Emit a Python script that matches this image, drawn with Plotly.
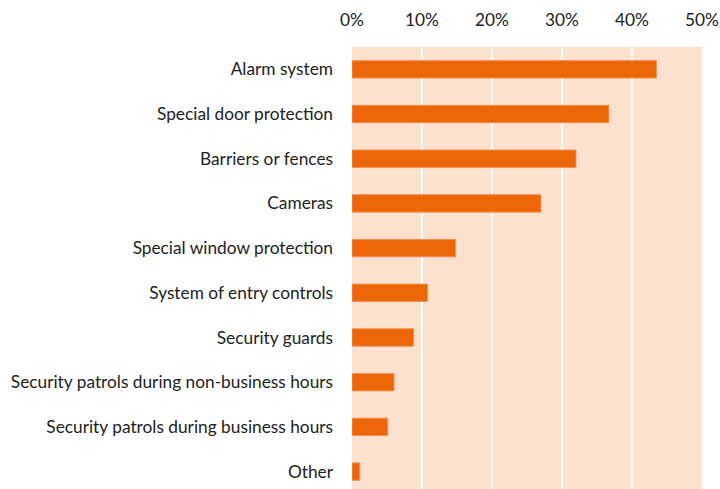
import plotly.graph_objects as go

categories = [
    "Alarm system",
    "Special door protection",
    "Barriers or fences",
    "Cameras",
    "Special window protection",
    "System of entry controls",
    "Security guards",
    "Security patrols during non-business hours",
    "Security patrols during business hours",
    "Other",
]
values = [43.5, 36.7, 32.0, 27.0, 14.8, 10.8, 8.8, 6.0, 5.1, 1.1]
tick_vals = [0, 10, 20, 30, 40, 50]
tick_text = ["0%", "10%", "20%", "30%", "40%", "50%"]

fig = go.Figure(
    go.Bar(
        x=values,
        y=categories,
        orientation="h",
        marker=dict(color="#EC6608", line=dict(color="#F3925A", width=1)),
        width=0.39,
    )
)

fig.update_layout(
    width=720,
    height=489,
    margin=dict(l=352, r=18, t=47, b=0),
    paper_bgcolor="white",
    plot_bgcolor="#FCE1CF",
    font=dict(family="Lato", size=17.3, color="#222222"),
    showlegend=False,
)
fig.update_xaxes(
    side="top",
    range=[0, 50],
    tickvals=tick_vals,
    ticktext=tick_text,
    showgrid=True,
    gridcolor="white",
    gridwidth=2,
    zeroline=False,
    showline=False,
    ticklabelstandoff=17,
)
fig.update_yaxes(
    categoryorder="array",
    categoryarray=categories,
    range=[9.39, -0.5],
    showgrid=False,
    zeroline=False,
    showline=False,
    ticklabelstandoff=18,
)

fig.write_html(
    "out.html",
    config={"displayModeBar": False},
    post_script="document.body.style.margin='0';document.body.style.overflow='hidden';",
)
